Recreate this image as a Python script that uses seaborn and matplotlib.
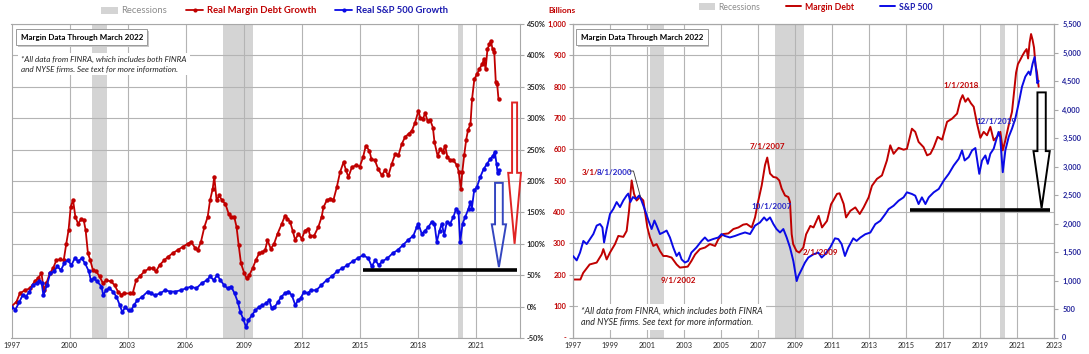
import matplotlib
matplotlib.use("Agg")
import matplotlib.pyplot as plt
import matplotlib.transforms as mtransforms
import seaborn as sns
from matplotlib.patches import Patch, FancyArrow
from matplotlib.lines import Line2D

# ---------------- data ----------------
# Left panel: real growth since Jan 1997 (%)
real_margin_years = [1997.00, 1997.26, 1997.43, 1997.69, 1997.95, 1998.20, 1998.37, 1998.55, 1998.67, 1998.80,
    1998.98, 1999.15, 1999.32, 1999.50, 1999.70, 1999.83, 1999.95, 2000.06, 2000.18, 2000.30,
    2000.44, 2000.60, 2000.73, 2000.83, 2000.95, 2001.07, 2001.21, 2001.38, 2001.55, 2001.73,
    2001.90, 2002.15, 2002.33, 2002.50, 2002.67, 2002.84, 2003.10, 2003.27, 2003.44, 2003.62,
    2003.87, 2004.13, 2004.30, 2004.47, 2004.65, 2004.90, 2005.08, 2005.33, 2005.59, 2005.85,
    2006.10, 2006.28, 2006.50, 2006.62, 2006.79, 2006.97, 2007.14, 2007.26, 2007.40, 2007.48,
    2007.60, 2007.74, 2007.88, 2008.05, 2008.22, 2008.34, 2008.51, 2008.63, 2008.74, 2008.86,
    2009.03, 2009.15, 2009.29, 2009.46, 2009.63, 2009.80, 2009.97, 2010.11, 2010.23, 2010.40,
    2010.57, 2010.75, 2010.97, 2011.14, 2011.26, 2011.40, 2011.53, 2011.66, 2011.83, 2012.00,
    2012.17, 2012.34, 2012.43, 2012.64, 2012.86, 2013.03, 2013.12, 2013.29, 2013.47, 2013.64,
    2013.81, 2013.98, 2014.16, 2014.29, 2014.41, 2014.59, 2014.81, 2015.00, 2015.17, 2015.31,
    2015.50, 2015.60, 2015.78, 2015.95, 2016.14, 2016.30, 2016.48, 2016.65, 2016.83, 2017.00,
    2017.17, 2017.34, 2017.52, 2017.69, 2017.86, 2018.03, 2018.12, 2018.26, 2018.38, 2018.50,
    2018.64, 2018.78, 2018.86, 2019.02, 2019.16, 2019.29, 2019.41, 2019.53, 2019.67, 2019.84,
    2020.02, 2020.12, 2020.22, 2020.30, 2020.40, 2020.50, 2020.60, 2020.72, 2020.80, 2020.92,
    2021.05, 2021.18, 2021.32, 2021.42, 2021.50, 2021.60, 2021.70, 2021.78, 2021.86, 2021.95,
    2022.03, 2022.10, 2022.17]
real_margin_pct = [0, 8, 21, 26, 29, 40, 45, 53, 26, 37,
    53, 61, 74, 75, 74, 100, 122, 159, 170, 143,
    132, 139, 138, 122, 85, 74, 58, 56, 48, 37,
    42, 40, 34, 24, 19, 21, 21, 22, 42, 48,
    56, 61, 61, 56, 66, 74, 79, 85, 90, 95,
    100, 103, 93, 90, 103, 127, 143, 169, 188, 207,
    169, 177, 169, 164, 148, 143, 143, 127, 98, 69,
    53, 45, 50, 61, 74, 85, 87, 90, 106, 92,
    100, 116, 132, 145, 140, 135, 121, 106, 116, 108,
    121, 124, 113, 113, 127, 143, 158, 169, 172, 170,
    190, 214, 230, 217, 206, 222, 225, 223, 238, 256,
    248, 235, 233, 219, 209, 217, 209, 227, 243, 241,
    259, 270, 275, 280, 293, 312, 301, 299, 308, 296,
    297, 285, 262, 240, 251, 246, 256, 238, 233, 233,
    225, 214, 187, 215, 242, 266, 282, 290, 330, 362,
    370, 378, 386, 394, 378, 410, 418, 423, 410, 405,
    357, 354, 330]

real_sp_years = [1997.00, 1997.20, 1997.40, 1997.57, 1997.75, 1997.93, 1998.10, 1998.30, 1998.44, 1998.56,
    1998.65, 1998.83, 1999.00, 1999.20, 1999.37, 1999.55, 1999.73, 1999.90, 2000.10, 2000.27,
    2000.45, 2000.63, 2000.80, 2001.00, 2001.10, 2001.25, 2001.43, 2001.65, 2001.74, 2001.88,
    2002.06, 2002.24, 2002.42, 2002.60, 2002.73, 2002.87, 2003.05, 2003.19, 2003.32, 2003.50,
    2003.77, 2004.04, 2004.22, 2004.40, 2004.67, 2004.94, 2005.20, 2005.47, 2005.74, 2006.01,
    2006.28, 2006.55, 2006.82, 2007.09, 2007.27, 2007.45, 2007.63, 2007.80, 2007.99, 2008.17,
    2008.35, 2008.53, 2008.70, 2008.83, 2008.97, 2009.12, 2009.24, 2009.42, 2009.60, 2009.78,
    2009.96, 2010.14, 2010.32, 2010.45, 2010.59, 2010.77, 2010.95, 2011.13, 2011.31, 2011.49,
    2011.67, 2011.80, 2011.94, 2012.12, 2012.30, 2012.48, 2012.75, 2013.01, 2013.28, 2013.55,
    2013.82, 2014.09, 2014.36, 2014.63, 2014.90, 2015.17, 2015.44, 2015.62, 2015.80, 2015.98,
    2016.16, 2016.43, 2016.70, 2016.96, 2017.23, 2017.50, 2017.77, 2017.95, 2018.03, 2018.20,
    2018.38, 2018.55, 2018.72, 2018.86, 2018.98, 2019.12, 2019.24, 2019.36, 2019.50, 2019.67,
    2019.84, 2019.98, 2020.10, 2020.19, 2020.31, 2020.45, 2020.62, 2020.71, 2020.79, 2020.91,
    2021.05, 2021.22, 2021.40, 2021.57, 2021.74, 2021.88, 2021.98, 2022.07, 2022.12, 2022.17]
real_sp_pct = [0, -5, 7, 18, 16, 24, 34, 37, 40, 37,
    18, 34, 53, 56, 64, 58, 69, 74, 66, 77,
    72, 77, 69, 56, 42, 45, 40, 32, 18, 26,
    29, 24, 16, 2, -9, -1, -6, -6, 2, 10,
    16, 24, 21, 18, 21, 26, 24, 24, 26, 29,
    32, 29, 37, 42, 48, 42, 50, 42, 34, 29,
    32, 21, 7, -9, -19, -33, -22, -14, -6, -1,
    2, 5, 10, -3, -1, 7, 16, 21, 24, 18,
    2, 10, 13, 24, 21, 26, 26, 34, 42, 48,
    56, 61, 66, 72, 77, 82, 77, 64, 74, 66,
    72, 77, 85, 90, 98, 106, 113, 127, 132, 116,
    121, 127, 135, 132, 103, 121, 132, 114, 135, 132,
    143, 156, 151, 103, 132, 143, 156, 166, 156, 185,
    190, 206, 219, 227, 235, 240, 246, 227, 213, 218]

# Right panel: margin debt (billions) and S&P 500 level
margin_years = [1997.00, 1997.20, 1997.40, 1997.55, 1997.90, 1998.28, 1998.55, 1998.64, 1998.82, 1999.00,
    1999.27, 1999.45, 1999.72, 1999.90, 2000.03, 2000.17, 2000.30, 2000.44, 2000.62, 2000.80,
    2001.02, 2001.16, 2001.34, 2001.52, 2001.70, 2001.88, 2002.06, 2002.33, 2002.60, 2002.78,
    2003.05, 2003.20, 2003.40, 2003.60, 2003.86, 2004.14, 2004.40, 2004.68, 2004.86, 2005.12,
    2005.40, 2005.67, 2005.94, 2006.20, 2006.39, 2006.66, 2006.84, 2007.02, 2007.20, 2007.38,
    2007.50, 2007.65, 2007.83, 2008.00, 2008.15, 2008.28, 2008.46, 2008.64, 2008.73, 2008.82,
    2008.90, 2009.08, 2009.23, 2009.45, 2009.60, 2009.83, 2010.00, 2010.28, 2010.46, 2010.73,
    2010.95, 2011.10, 2011.27, 2011.41, 2011.63, 2011.76, 2011.99, 2012.26, 2012.50, 2012.71,
    2012.98, 2013.16, 2013.43, 2013.70, 2013.97, 2014.15, 2014.33, 2014.60, 2014.87, 2015.05,
    2015.32, 2015.50, 2015.68, 2015.95, 2016.14, 2016.32, 2016.50, 2016.71, 2016.95, 2017.22,
    2017.49, 2017.76, 2017.94, 2018.06, 2018.21, 2018.35, 2018.51, 2018.66, 2018.84, 2019.02,
    2019.20, 2019.38, 2019.56, 2019.74, 2019.92, 2020.10, 2020.23, 2020.37, 2020.55, 2020.73,
    2020.85, 2020.95, 2021.05, 2021.17, 2021.30, 2021.42, 2021.52, 2021.60, 2021.68, 2021.76,
    2021.84, 2021.92, 2022.00, 2022.08, 2022.17]
margin_billions = [185, 185, 185, 206, 233, 239, 265, 282, 249, 271,
    298, 324, 321, 340, 405, 501, 458, 437, 448, 437,
    351, 319, 292, 298, 276, 260, 260, 255, 233, 223,
    225, 226, 244, 265, 282, 287, 298, 292, 314, 330,
    332, 346, 351, 360, 362, 351, 383, 437, 485, 550,
    574, 523, 512, 510, 501, 475, 453, 448, 432, 330,
    298, 276, 271, 287, 329, 356, 351, 388, 351, 372,
    425, 440, 458, 460, 426, 383, 404, 415, 394, 415,
    447, 484, 506, 517, 565, 613, 586, 605, 599, 602,
    666, 656, 624, 607, 581, 586, 607, 640, 631, 688,
    698, 714, 757, 773, 752, 763, 747, 736, 682, 637,
    656, 645, 672, 629, 640, 656, 597, 629, 677, 720,
    790, 845, 872, 885, 900, 912, 920, 890, 940, 968,
    950, 925, 870, 845, 800]

sp_years = [1997.00, 1997.20, 1997.38, 1997.56, 1997.74, 1997.92, 1998.10, 1998.28, 1998.46, 1998.59,
    1998.68, 1998.82, 1999.00, 1999.18, 1999.36, 1999.54, 1999.72, 1999.90, 1999.99, 2000.10,
    2000.24, 2000.40, 2000.58, 2000.70, 2000.90, 2001.08, 2001.25, 2001.40, 2001.52, 2001.70,
    2001.88, 2002.06, 2002.24, 2002.42, 2002.60, 2002.74, 2002.87, 2003.05, 2003.22, 2003.40,
    2003.67, 2003.95, 2004.13, 2004.30, 2004.57, 2004.86, 2005.03, 2005.20, 2005.48, 2005.76,
    2006.03, 2006.30, 2006.57, 2006.84, 2007.11, 2007.33, 2007.47, 2007.65, 2007.83, 2008.00,
    2008.19, 2008.37, 2008.55, 2008.73, 2008.91, 2009.09, 2009.18, 2009.36, 2009.54, 2009.72,
    2009.99, 2010.26, 2010.44, 2010.62, 2010.90, 2011.16, 2011.34, 2011.52, 2011.70, 2011.88,
    2012.15, 2012.33, 2012.53, 2012.80, 2013.07, 2013.34, 2013.61, 2013.88, 2014.06, 2014.33,
    2014.60, 2014.87, 2015.05, 2015.32, 2015.50, 2015.68, 2015.86, 2016.05, 2016.23, 2016.50,
    2016.77, 2017.04, 2017.31, 2017.58, 2017.85, 2018.03, 2018.17, 2018.39, 2018.57, 2018.75,
    2018.96, 2019.11, 2019.29, 2019.42, 2019.56, 2019.74, 2020.00, 2020.09, 2020.23, 2020.37,
    2020.55, 2020.73, 2020.91, 2021.09, 2021.27, 2021.45, 2021.63, 2021.72, 2021.84, 2021.95,
    2022.03, 2022.10, 2022.17]
sp_level = [1430, 1353, 1490, 1694, 1639, 1727, 1815, 1963, 1991, 1931,
    1667, 1903, 2167, 2255, 2376, 2288, 2404, 2492, 2525, 2376,
    2464, 2431, 2492, 2404, 2228, 2052, 1903, 2052, 1963, 1815,
    1843, 1876, 1755, 1579, 1430, 1490, 1370, 1315, 1342, 1490,
    1579, 1694, 1755, 1694, 1727, 1755, 1815, 1782, 1755, 1782,
    1815, 1843, 1815, 1963, 2019, 2107, 2052, 2107, 1991, 1903,
    1843, 1903, 1755, 1579, 1342, 990, 1078, 1194, 1315, 1403,
    1458, 1490, 1403, 1458, 1579, 1740, 1727, 1639, 1430, 1579,
    1740, 1694, 1753, 1812, 1841, 1988, 2047, 2165, 2253, 2312,
    2400, 2459, 2547, 2518, 2488, 2341, 2459, 2341, 2459, 2547,
    2606, 2753, 2871, 3018, 3135, 3282, 3106, 3165, 3282, 3324,
    2871, 3106, 3194, 3047, 3224, 3312, 3606, 3518, 2900, 3282,
    3518, 3665, 3841, 4106, 4400, 4576, 4665, 4606, 4800, 4920,
    4700, 4460, 4500]

recession_start = [2001.17, 2007.92, 2020.08]
recession_end = [2001.92, 2009.50, 2020.33]

left_ticks_years = [1997, 2000, 2003, 2006, 2009, 2012, 2015, 2018, 2021]
left_ticks_pct = [-50, 0, 50, 100, 150, 200, 250, 300, 350, 400, 450]
right_ticks_years = list(range(1997, 2024, 2))
billion_ticks = list(range(0, 1001, 100))
sp_ticks = list(range(0, 5501, 500))

# ---------------- style ----------------
sns.set_style("white")
plt.rcParams['font.family'] = ['Lato', 'DejaVu Sans']

RED = '#C00000'
BLUE = '#0A0AE6'
NAVY = '#22229A'
GRID = '#B4B4B4'
SHADE = '#D4D4D4'
TICK = 5.3

fig = plt.figure(figsize=(10.89, 3.54), dpi=100)
axL = fig.add_axes([11.5 / 1089, 1 - 338 / 354, (520 - 11.5) / 1089, (338 - 24) / 354])
axR = fig.add_axes([573 / 1089, 1 - 337.5 / 354, (1054 - 573) / 1089, (337.5 - 24) / 354])
axR2 = axR.twinx()

for ax in (axL, axR):
    ax.set_axisbelow(True)
    ax.grid(True, color=GRID, lw=0.8)
    for s in ax.spines.values():
        s.set_color('#A8A8A8')
        s.set_linewidth(0.8)
    for a, b in zip(recession_start, recession_end):
        ax.axvspan(a, b, color=SHADE, lw=0, zorder=0.2)
for s in axR2.spines.values():
    s.set_color('#A8A8A8')
    s.set_linewidth(0.8)

# ---------------- left panel ----------------
sns.lineplot(x=real_margin_years, y=real_margin_pct, ax=axL, color=RED, lw=1.3,
             marker='o', markersize=3.2, markeredgewidth=0, estimator=None, sort=False, zorder=3)
sns.lineplot(x=real_sp_years, y=real_sp_pct, ax=axL, color=BLUE, lw=1.3,
             marker='o', markersize=3.2, markeredgewidth=0, estimator=None, sort=False, zorder=3)
axL.set_xlim(1997.0, 2023.28)
axL.set_ylim(-50, 450)
axL.set_xticks(left_ticks_years)
axL.set_xticklabels([str(y) for y in left_ticks_years])
axL.set_yticks(left_ticks_pct)
axL.set_yticklabels([f"{v}%" for v in left_ticks_pct])
axL.yaxis.tick_right()
axL.tick_params(axis='y', length=3, color='#A8A8A8', pad=2, labelsize=TICK)
axL.tick_params(axis='x', length=0, pad=3, labelsize=TICK)
for t in axL.get_yticklabels():
    t.set_fontweight('bold')
    t.set_color('#262626')
axL.set_xlabel('')
axL.set_ylabel('')

# arrows and level line (left)
axL.add_patch(FancyArrow(2023.0, 325, 0, -225, width=0.26, head_width=0.66, head_length=113,
                         length_includes_head=True, fill=False, ec='#E02424', lw=1.4, zorder=4,
                         clip_on=False))
axL.add_patch(FancyArrow(2022.19, 197, 0, -134, width=0.40, head_width=0.74, head_length=68,
                         length_includes_head=True, fill=False, ec='#3446C0', lw=1.4, zorder=4,
                         clip_on=False))
axL.plot([2015.17, 2023.12], [58, 58], color='black', lw=2.6, solid_capstyle='butt', zorder=4)

def boxed_title(ax, x, y):
    shadow = mtransforms.offset_copy(ax.transAxes, fig=fig, x=1.5, y=-1.5, units='dots')
    ax.text(x, y, 'Margin Data Through March 2022', transform=shadow, fontsize=5.8,
            fontweight='bold', color=(0, 0, 0, 0), va='center', ha='left', zorder=5,
            bbox=dict(boxstyle='square,pad=0.55', fc='#C8C8C8', ec='none'))
    ax.text(x, y, 'Margin Data Through March 2022', transform=ax.transAxes, fontsize=5.8,
            fontweight='bold', color='black', va='center', ha='left', zorder=6,
            bbox=dict(boxstyle='square,pad=0.55', fc='white', ec='#9A9A9A', lw=0.7))

NOTE = '*All data from FINRA, which includes both FINRA\nand NYSE firms. See text for more information.'
boxed_title(axL, 0.018, 0.958)
axL.text(0.019, 0.897, NOTE, transform=axL.transAxes, fontsize=5.85, style='italic',
         va='top', ha='left', linespacing=1.3, zorder=5,
         bbox=dict(boxstyle='square,pad=0.4', fc='white', ec='none'))

leg_handles_L = [Patch(facecolor=SHADE, edgecolor='none'),
                 Line2D([], [], color=RED, lw=1.3, marker='o', markersize=3.0, markeredgewidth=0),
                 Line2D([], [], color=BLUE, lw=1.3, marker='o', markersize=3.0, markeredgewidth=0)]
legL = fig.legend(leg_handles_L, ['Recessions', 'Real Margin Debt Growth', 'Real S&P 500 Growth'],
                  loc='center', bbox_to_anchor=(0.252, 0.969), ncol=3, frameon=False, fontsize=6.8,
                  handlelength=1.8, handleheight=0.8, columnspacing=2.0, handletextpad=0.4)
for t, c, w in zip(legL.get_texts(), ['#8C8C8C', RED, '#1A1AB0'], ['normal', 'bold', 'bold']):
    t.set_color(c)
    t.set_fontweight(w)

# ---------------- right panel ----------------
sns.lineplot(x=margin_years, y=margin_billions, ax=axR, color=RED, lw=1.4,
             estimator=None, sort=False, zorder=3)
sns.lineplot(x=sp_years, y=sp_level, ax=axR2, color=BLUE, lw=1.4,
             estimator=None, sort=False, zorder=3)
axR.set_xlim(1997, 2023)
axR.set_ylim(0, 1000)
axR2.set_ylim(0, 5500)
axR.set_xticks(right_ticks_years)
axR.set_xticklabels([str(y) for y in right_ticks_years])
axR.set_yticks(billion_ticks)
axR.set_yticklabels(['-'] + [f"{v:,}" for v in billion_ticks[1:]])
axR2.set_yticks(sp_ticks)
axR2.set_yticklabels([f"{v:,}" for v in sp_ticks])
axR2.grid(False)
axR.tick_params(axis='x', length=0, pad=3, labelsize=TICK)
axR.tick_params(axis='y', length=3, color='#A8A8A8', pad=2, labelsize=TICK)
axR2.tick_params(axis='y', length=3, color='#A8A8A8', pad=3, labelsize=TICK)
for t in axR.get_yticklabels():
    t.set_fontweight('bold')
    t.set_color(RED)
for t in axR2.get_yticklabels():
    t.set_fontweight('bold')
    t.set_color(NAVY)
for a in (axR, axR2):
    a.set_xlabel('')
    a.set_ylabel('')

axR2.add_patch(FancyArrow(2022.33, 4300, 0, -2030, width=0.45, head_width=0.88, head_length=1000,
                          length_includes_head=True, fill=False, ec='black', lw=1.4, zorder=4,
                          clip_on=False))
axR2.plot([2015.19, 2022.76], [2240, 2240], color='black', lw=2.6, solid_capstyle='butt', zorder=4)

boxed_title(axR, 0.016, 0.958)
axR.text(0.016, 0.097, NOTE, transform=axR.transAxes, fontsize=6.4, style='italic',
         va='top', ha='left', linespacing=1.3, zorder=5,
         bbox=dict(boxstyle='square,pad=0.35', fc='white', ec='none'))

ann = dict(transform=axR.transData, fontsize=5.8, fontweight='bold', va='center', zorder=6)
axR2.text(1997.46, 525, '3/1/', color=RED, ha='left', **ann)
axR2.text(1998.27, 525, '8/1/2000', color='#2424C8', ha='left', **ann)
axR2.plot([2000.05, 2000.27, 2000.65], [531, 531, 448], color='#333333', lw=0.6,
          transform=axR.transData, zorder=6)
axR2.text(2002.70, 183, '9/1/2002', color=RED, ha='center', **ann)
axR2.text(2007.51, 608, '7/1/2007', color=RED, ha='center', **ann)
axR2.text(2007.73, 419, '10/1/2007', color='#2424C8', ha='center', **ann)
axR2.text(2010.38, 270, '2/1/2009', color=RED, ha='center', **ann)
axR2.text(2018.00, 805, '1/1/2018', color=RED, ha='center', **ann)
axR2.text(2019.89, 690, '12/1/2019', color='#2424C8', ha='center', **ann)

fig.text(548 / 1089, 1 - 10.5 / 354, 'Billions', color=RED, fontweight='bold', fontsize=6,
         ha='left', va='center')

leg_handles_R = [Patch(facecolor=SHADE, edgecolor='none'),
                 Line2D([], [], color=RED, lw=1.4),
                 Line2D([], [], color=BLUE, lw=1.4)]
legR = fig.legend(leg_handles_R, ['Recessions', 'Margin Debt', 'S&P 500'],
                  loc='center', bbox_to_anchor=(0.749, 0.980), ncol=3, frameon=False, fontsize=6.2,
                  handlelength=1.8, handleheight=0.8, columnspacing=3.0, handletextpad=0.4)
for t, c, w in zip(legR.get_texts(), ['#8C8C8C', RED, '#1A1AB0'], ['normal', 'bold', 'bold']):
    t.set_color(c)
    t.set_fontweight(w)

fig.savefig('out.png', dpi=100)
